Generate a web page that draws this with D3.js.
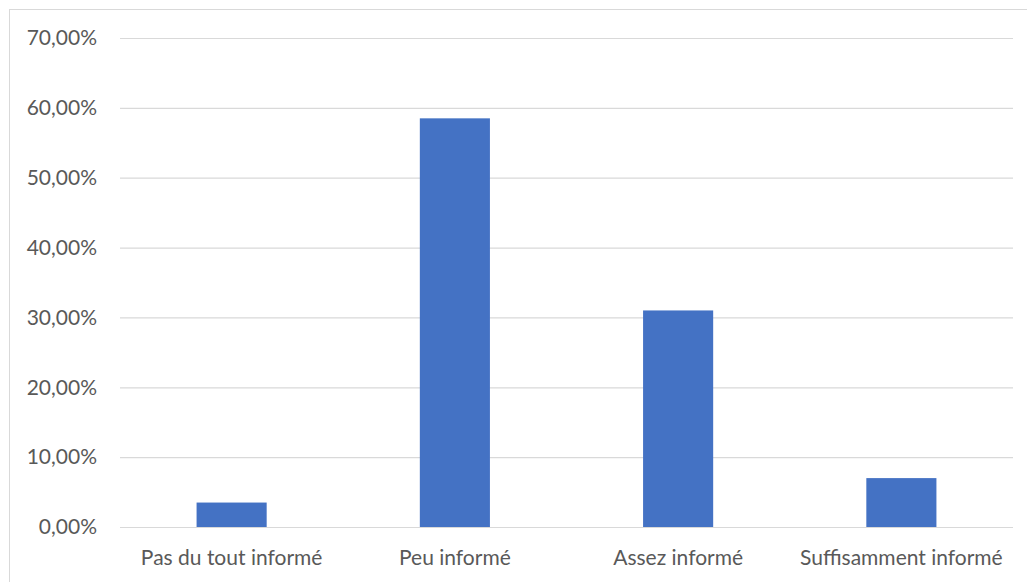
<!DOCTYPE html>
<html lang="fr">
<head>
    <meta charset="UTF-8">
    <title>Niveau d'information</title>
    <script src="https://cdn.jsdelivr.net/npm/d3@7"></script>
    <style>
        body { margin: 0; background: #fff; }
        text { font-family: Lato, "Open Sans", sans-serif; fill: #595959; }
    </style>
</head>
<body>
<script>
    const categories = ['Pas du tout informé', 'Peu informé', 'Assez informé', 'Suffisamment informé']
    const values = [3.5, 58.5, 31, 7]
    const yTicks = [0, 10, 20, 30, 40, 50, 60, 70]

    const [width, height] = [1027, 582]
    const plot = {left: 120, right: 1013, top: 38, bottom: 527}
    const fontSize = 21

    const svg = d3.select('body')
        .append('svg')
            .attr('width', width)
            .attr('height', height)

    // cadre du graphique
    svg.append('rect')
        .attr('x', 9.5).attr('y', 9.5)
        .attr('width', width + 10).attr('height', height + 10)
        .attr('fill', 'none')
        .attr('stroke', '#d9d9d9')

    const x = d3.scaleBand()
        .domain(categories)
        .range([plot.left, plot.right])
        .paddingInner(0.686)
        .paddingOuter(0.343)

    const y = d3.scaleLinear().domain([0, 70]).range([plot.bottom, plot.top])

    const fmt = v => v.toFixed(2).replace('.', ',') + '%'

    const yAxis = d3.axisLeft(y).tickValues(yTicks).tickFormat(fmt)
        .tickSize(-(plot.right - plot.left)).tickPadding(23)
    svg.append('g').attr('class', 'y-axis')
        .attr('transform', `translate(${plot.left}, 0)`)
        .call(yAxis)
        .call(g => g.select('.domain').remove())
        .call(g => g.selectAll('.tick line').attr('stroke', '#d9d9d9').attr('stroke-width', 1.2))
        .call(g => g.selectAll('.tick text').attr('font-size', fontSize).attr('fill', '#595959')
            .attr('font-family', 'Lato, "Open Sans", sans-serif'))

    svg.append('g').selectAll('rect')
        .data(values)
        .join('rect')
            .attr('x', (d, i) => x(categories[i]))
            .attr('y', d => y(d))
            .attr('width', x.bandwidth())
            .attr('height', d => y(0) - y(d))
            .attr('fill', '#4472c4')

    const xAxis = d3.axisBottom(x).tickSize(0).tickPadding(23)
    svg.append('g').attr('class', 'x-axis')
        .attr('transform', `translate(0, ${plot.bottom})`)
        .call(xAxis)
        .call(g => g.select('.domain').attr('stroke', '#d9d9d9').attr('stroke-width', 1.2)
            .attr('d', `M${plot.left},0.5H${plot.right}`))
        .call(g => g.selectAll('.tick text').attr('font-size', fontSize).attr('fill', '#595959')
            .attr('font-family', 'Lato, "Open Sans", sans-serif'))
</script>
</body>
</html>
